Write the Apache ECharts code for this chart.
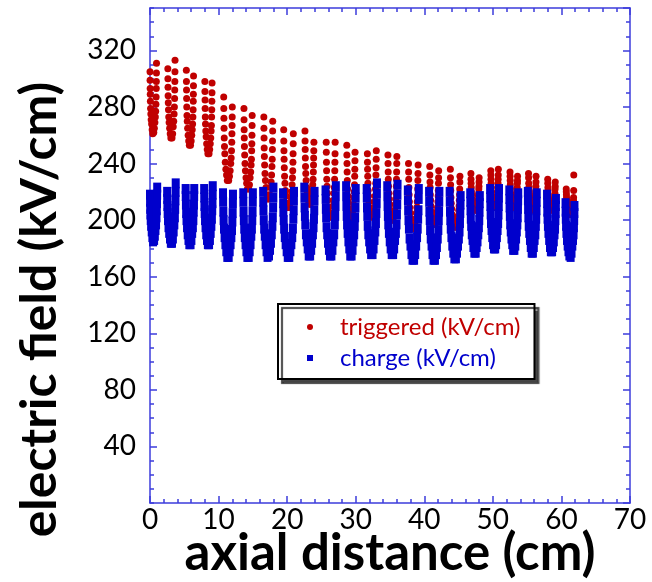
<!DOCTYPE html>
<html>
<head>
<meta charset="utf-8">
<script src="https://cdn.jsdelivr.net/npm/echarts@6/dist/echarts.min.js"></script>
<style>
  html, body { margin: 0; padding: 0; background: #fff; }
  #chart { width: 652px; height: 582px; }
</style>
</head>
<body>
<div id="chart"></div>
<script>
// Field profile along the axis: one U-shaped group of samples per gap.
// Each group spans [start, end] in cm; samples sit at fixed fractions of that span.
const redOffsets = [0, 0.01, 0.025, 0.04, 0.06, 0.09, 0.13, 0.18, 0.25, 0.33, 0.42,
                    0.58, 0.67, 0.75, 0.82, 0.87, 0.91, 0.94, 0.96, 0.975, 0.99, 1];
const blueOffsets = [0, 0.01, 0.03, 0.06, 0.1, 0.16, 0.24, 0.33, 0.43,
                     0.57, 0.67, 0.76, 0.84, 0.9, 0.94, 0.97, 0.99, 1];

// triggered field (kV/cm)
const triggeredSpan = [
  [0.0, 0.95], [2.6, 3.65], [5.3, 6.35], [8.0, 9.05], [10.75, 12.0], [13.7, 14.9],
  [16.6, 17.9], [19.5, 20.9], [22.6, 23.9], [25.7, 27.0], [28.7, 29.9], [31.7, 33.0],
  [34.7, 36.0], [37.7, 39.1], [40.8, 42.1], [43.8, 45.2], [46.8, 48.0], [49.7, 50.8],
  [52.5, 53.6], [55.2, 56.3], [58.0, 59.1], [60.7, 61.8]
];
const triggeredValues = [
  [305,299,293,289,284,279,275,271,268,264,261, 262,265,269,273,277,282,287,293,298,304,311],
  [307,300,294,288,283,278,273,269,265,261,258, 258,261,266,270,275,280,286,292,298,305,313],
  [306,298,292,286,280,274,270,265,260,256,253, 253,256,260,264,268,273,278,284,289,295,302],
  [298,291,285,279,273,268,263,259,254,250,247, 247,250,254,258,263,267,273,278,284,290,297],
  [287,279,272,265,258,252,247,241,236,232,228, 228,231,235,240,244,249,255,261,267,273,280],
  [279,271,264,258,252,246,240,235,230,226,222, 222,225,230,234,239,243,249,254,260,267,274],
  [273,265,258,251,245,239,233,228,223,218,215, 215,218,223,227,232,238,243,250,256,263,270],
  [264,256,249,243,237,231,226,221,217,212,209, 209,212,216,220,225,230,235,241,247,254,261],
  [263,256,250,244,238,233,228,223,219,215,212, 211,214,218,221,225,229,234,239,244,249,255],
  [255,248,241,235,229,224,219,214,209,205,202, 202,205,210,214,219,223,229,235,241,247,255],
  [253,246,240,234,228,222,217,213,208,204,201, 200,204,207,211,216,220,225,231,236,242,248],
  [247,241,236,231,226,221,217,213,209,205,202, 202,205,209,213,217,222,226,232,237,243,249],
  [246,240,234,229,224,219,215,211,207,203,200, 200,203,207,211,215,219,224,229,234,240,245],
  [240,234,229,223,218,213,209,205,201,197,194, 194,197,201,205,209,213,217,222,228,233,239],
  [238,232,227,223,218,214,210,206,203,199,197, 197,199,202,206,209,213,217,221,226,230,235],
  [236,230,225,221,216,212,208,204,201,198,195, 195,197,200,203,207,210,214,218,222,227,231],
  [233,229,226,223,220,218,215,213,211,208,207, 207,208,210,212,214,217,219,222,224,227,230],
  [235,232,229,226,223,220,217,215,213,210,209, 209,210,213,215,217,220,223,226,229,232,236],
  [234,231,228,225,222,219,217,215,212,210,209, 209,210,212,214,216,218,220,223,226,228,231],
  [233,230,226,223,220,217,215,213,210,208,207, 207,208,210,212,215,217,219,221,224,227,231],
  [229,226,223,221,218,216,214,212,210,208,207, 207,208,210,211,213,215,217,219,222,224,227],
  [222,220,218,216,214,212,210,208,207,205,204, 204,205,206,207,209,210,212,214,216,221,232]
];

// charge field (kV/cm)
const chargeSpan = [
  [0.0, 1.05], [2.5, 3.75], [5.2, 6.45], [7.9, 9.15], [10.65, 12.1], [13.6, 15.0],
  [16.5, 18.0], [19.4, 21.0], [22.5, 24.0], [25.6, 27.1], [28.6, 30.0], [31.6, 33.1],
  [34.6, 36.1], [37.6, 39.2], [40.7, 42.2], [43.7, 45.3], [46.7, 48.1], [49.6, 50.9],
  [52.4, 53.7], [55.1, 56.4], [57.9, 59.2], [60.6, 61.9]
];
const chargeValues = [
  [218,213,208,204,200,196,192,188,185, 186,189,193,197,202,207,212,218,223],
  [220,215,210,205,200,195,191,187,184, 184,187,192,197,202,208,214,220,226],
  [222,217,211,205,200,195,190,186,183, 183,186,191,195,200,206,211,217,222],
  [222,216,210,205,200,195,190,186,183, 183,186,191,196,201,207,212,218,224],
  [219,213,206,200,194,188,183,178,174, 174,178,183,188,193,199,205,212,218],
  [219,213,206,200,194,188,183,178,174, 174,178,183,189,194,200,206,213,219],
  [220,213,207,200,194,189,183,178,174, 175,179,184,190,196,202,209,216,223],
  [219,212,206,200,194,188,183,178,174, 174,178,183,188,194,201,207,214,220],
  [223,216,209,203,197,190,185,180,175, 175,179,184,190,195,201,207,214,220],
  [221,215,208,202,195,190,184,179,175, 175,179,185,190,197,203,210,217,224],
  [224,217,210,203,197,191,185,180,175, 175,179,185,190,196,202,209,216,222],
  [222,216,209,203,196,190,185,180,176, 176,180,186,192,198,205,212,219,226],
  [224,217,210,203,197,191,185,180,176, 176,180,186,191,197,204,211,218,225],
  [221,214,207,200,194,187,182,176,172, 172,176,182,188,194,201,207,215,222],
  [220,213,206,200,193,187,182,176,172, 172,176,181,187,193,200,206,213,220],
  [220,213,206,200,194,188,182,177,173, 173,177,182,187,192,198,205,211,217],
  [219,213,207,201,196,190,186,181,177, 177,181,185,190,195,200,206,212,217],
  [222,216,210,204,198,193,188,183,180, 180,183,188,193,198,204,210,216,222],
  [221,215,209,203,197,192,187,183,179, 179,182,187,192,197,202,208,214,219],
  [220,214,208,202,196,191,186,181,177, 177,181,186,190,196,201,207,213,219],
  [218,212,206,201,196,191,186,181,178, 178,181,185,190,194,200,205,210,215],
  [212,206,201,196,191,186,182,178,175, 174,177,182,186,190,195,200,205,210]
];

// Axis ticks
const xTickStep = 10, xMinorStep = 2, xMax = 70;
const yTickStep = 40, yMinorStep = 10, yMax = 350;

function buildPoints(spans, values, offsets) {
  const pts = [];
  spans.forEach(function (span, i) {
    const w = span[1] - span[0];
    values[i].forEach(function (v, j) {
      pts.push([+(span[0] + offsets[j] * w).toFixed(3), v]);
    });
  });
  return pts;
}

const axisBlue = '#3c3cdc';
const font = 'Lato, "Open Sans", sans-serif';

const chart = echarts.init(document.getElementById('chart'), null, { renderer: 'canvas' });

function yAxisDef(position, step, tickLen, showLine, showLabel) {
  return {
    type: 'value', position: position, min: 0, max: yMax, interval: step,
    axisLine: { show: showLine, lineStyle: { color: axisBlue, width: 1.5 } },
    axisTick: { show: true, inside: true, length: tickLen, lineStyle: { color: axisBlue, width: 1.5 } },
    axisLabel: {
      show: showLabel, showMinLabel: false, showMaxLabel: false,
      fontFamily: font, fontSize: 28, color: '#000', margin: 14
    },
    splitLine: { show: false }
  };
}
function xAxisDef(position, showLabel) {
  return {
    type: 'value', position: position, min: 0, max: xMax, interval: xTickStep,
    axisLine: { show: true, onZero: false, lineStyle: { color: axisBlue, width: 1.5 } },
    axisTick: { show: true, inside: true, length: 7, lineStyle: { color: axisBlue, width: 1.5 } },
    minorTick: { show: true, splitNumber: xTickStep / xMinorStep, length: 4, lineStyle: { color: axisBlue, width: 1.5 } },
    axisLabel: { show: showLabel, fontFamily: font, fontSize: 28, color: '#000', margin: 3 },
    splitLine: { show: false }
  };
}

const xBottom = xAxisDef('bottom', true);
xBottom.name = 'axial distance (cm)';
xBottom.nameLocation = 'middle';
xBottom.nameGap = 25;
xBottom.nameMoveOverlap = false;
xBottom.nameTextStyle = { fontFamily: font, fontWeight: 'bold', fontSize: 51, color: '#000' };

const yLeft = yAxisDef('left', yTickStep, 7, true, true);
yLeft.name = 'electric field (kV/cm)';
yLeft.nameLocation = 'middle';
yLeft.nameGap = 85;
yLeft.nameMoveOverlap = false;
yLeft.nameTextStyle = {
  fontFamily: font, fontWeight: 'bold', fontSize: 50, color: '#000',
  padding: [0, 108, 0, 0]
};

chart.setOption({
  animation: false,
  backgroundColor: '#fff',
  grid: { left: 150, right: 22, top: 8, bottom: 79, containLabel: false, outerBoundsMode: 'none' },
  xAxis: [xBottom, xAxisDef('top', false)],
  yAxis: [
    yLeft,
    yAxisDef('left', yMinorStep, 4, false, false),
    yAxisDef('right', yTickStep, 7, true, false),
    yAxisDef('right', yMinorStep, 4, false, false)
  ],
  legend: {
    orient: 'vertical',
    left: 278, top: 304,
    padding: [11, 14, 9, 29],
    itemGap: 7,
    itemWidth: 6, itemHeight: 6,
    backgroundColor: '#fff',
    borderColor: '#000', borderWidth: 2, borderRadius: 0,
    shadowColor: 'rgba(50,50,50,0.9)', shadowBlur: 1, shadowOffsetX: 4, shadowOffsetY: 4,
    textStyle: { fontFamily: font, fontSize: 24, padding: [0, 0, 0, 22] },
    data: [
      { name: 'triggered (kV/cm)', icon: 'circle', textStyle: { color: '#c00000' } },
      { name: 'charge (kV/cm)', icon: 'rect', textStyle: { color: '#0000cc' } }
    ]
  },
  series: [
    {
      name: 'triggered (kV/cm)', type: 'scatter', xAxisIndex: 0, yAxisIndex: 0,
      symbol: 'circle', symbolSize: 7,
      itemStyle: { color: '#c00000', opacity: 1 },
      data: buildPoints(triggeredSpan, triggeredValues, redOffsets)
    },
    {
      name: 'charge (kV/cm)', type: 'scatter', xAxisIndex: 0, yAxisIndex: 0,
      symbol: 'rect', symbolSize: [8, 10],
      itemStyle: { color: '#0000cc', opacity: 1 },
      data: buildPoints(chargeSpan, chargeValues, blueOffsets)
    }
  ]
});
</script>
</body>
</html>
